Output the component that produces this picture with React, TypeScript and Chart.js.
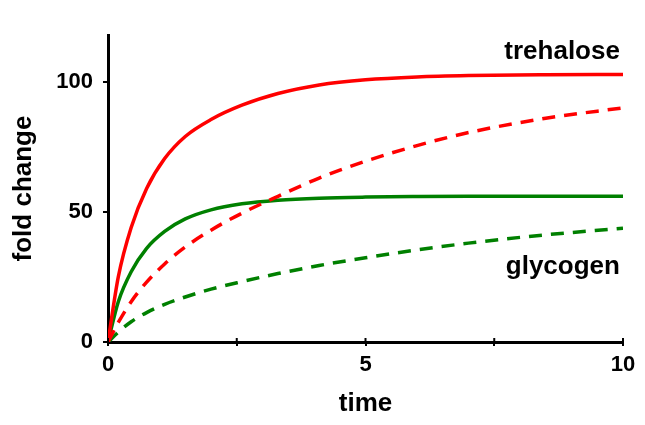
import React, { useEffect, useRef } from 'react';
import { Chart, registerables } from 'chart.js';

Chart.register(...registerables);

// time points (shared by all series)
const timePoints = [0, 0.2, 0.45, 0.75, 1.1, 1.5, 2, 2.6, 3.3, 4.1, 5, 6, 7, 8.5, 10];

// trehalose, fast (solid red)
const trehaloseFast = [0, 25, 44, 59, 70.5, 79, 85.5, 91, 95.5, 98.8, 100.8, 101.9, 102.4, 102.7, 102.8];
// trehalose, slow (dashed red)
const trehaloseSlow = [0, 7.5, 15.5, 23, 30, 36.5, 43, 49.5, 56, 63, 69.5, 75.5, 80.5, 86, 90];
// glycogen, fast (solid green)
const glycogenFast = [0, 15.5, 27, 36, 42.5, 47.3, 50.8, 53.1, 54.5, 55.3, 55.7, 55.9, 56, 56, 56];
// glycogen, slow (dashed green)
const glycogenSlow = [0, 3.8, 7.8, 11.3, 14.5, 17.3, 20.3, 23.2, 26.3, 29.4, 32.4, 35.4, 38, 41.2, 43.7];

const xTicks = [0, 2.5, 5, 7.5, 10];
const xTickLabels = ['0', '', '5', '', '10'];
const yTicks = [0, 50, 100];
const yTickLabels = ['0', '50', '100'];

const xTitle = 'time';
const yTitle = 'fold change';
const trehaloseLabel = 'trehalose';
const glycogenLabel = 'glycogen';

const RED = '#ff0000';
const GREEN = '#008000';
const FONT = '"Liberation Sans", Arial, Helvetica, sans-serif';

const toPoints = (ys: number[]) => ys.map((v, i) => ({ x: timePoints[i], y: v }));

export default function App() {
  const ref = useRef<HTMLCanvasElement | null>(null);

  useEffect(() => {
    if (!ref.current) return;

    const textPlugin = {
      id: 'textPlugin',
      afterDraw(chart: any) {
        const ctx = chart.ctx;
        const { chartArea } = chart;
        const xs = chart.scales.x;
        const ys = chart.scales.y;
        ctx.save();
        // small tick stubs crossing the x axis (inner side)
        ctx.strokeStyle = '#000';
        ctx.lineWidth = 2;
        xTicks.forEach((v) => {
          const px = xs.getPixelForValue(v);
          ctx.beginPath();
          ctx.moveTo(px, chartArea.bottom);
          ctx.lineTo(px, chartArea.bottom - 4);
          ctx.stroke();
        });
        ctx.fillStyle = '#000';
        ctx.font = `bold 26px ${FONT}`;
        ctx.textAlign = 'right';
        ctx.textBaseline = 'middle';
        ctx.fillText(trehaloseLabel, xs.getPixelForValue(9.94), ys.getPixelForValue(111.5));
        ctx.fillText(glycogenLabel, xs.getPixelForValue(9.94), ys.getPixelForValue(28.8));
        ctx.textAlign = 'center';
        ctx.fillText(xTitle, (chartArea.left + chartArea.right) / 2, 404);
        ctx.translate(24, (chartArea.top + chartArea.bottom) / 2);
        ctx.rotate(-Math.PI / 2);
        ctx.fillText(yTitle, 0, 0);
        ctx.restore();
      },
    };

    const lineStyle = (color: string, dashed: boolean) => ({
      borderColor: color,
      backgroundColor: color,
      borderWidth: 3.5,
      borderDash: dashed ? [13, 9] : [],
      pointRadius: 0,
      fill: false,
      cubicInterpolationMode: 'monotone' as const,
    });

    const chart = new Chart(ref.current, {
      type: 'line',
      data: {
        datasets: [
          { label: 'trehalose fast', data: toPoints(trehaloseFast), ...lineStyle(RED, false) },
          { label: 'trehalose slow', data: toPoints(trehaloseSlow), ...lineStyle(RED, true) },
          { label: 'glycogen fast', data: toPoints(glycogenFast), ...lineStyle(GREEN, false) },
          { label: 'glycogen slow', data: toPoints(glycogenSlow), ...lineStyle(GREEN, true) },
        ],
      },
      options: {
        animation: false,
        responsive: false,
        devicePixelRatio: 1,
        layout: { padding: { left: 0, right: 22, top: 35, bottom: 0 } },
        plugins: { legend: { display: false }, tooltip: { enabled: false } },
        scales: {
          x: {
            type: 'linear',
            min: 0,
            max: 10,
            afterBuildTicks: (s: any) => {
              s.ticks = xTicks.map((v) => ({ value: v }));
            },
            afterFit: (s: any) => {
              s.height = 83;
            },
            ticks: {
              color: '#000',
              font: { family: FONT, size: 22, weight: 'bold' },
              padding: 6,
              maxRotation: 0,
              autoSkip: false,
              callback: (v: any) => {
                const i = xTicks.indexOf(Number(v));
                return i >= 0 ? xTickLabels[i] : '';
              },
            },
            grid: { drawOnChartArea: false, color: '#000', lineWidth: 2, tickLength: 4 },
            border: { color: '#000', width: 3 },
          },
          y: {
            type: 'linear',
            min: 0,
            max: 118,
            afterBuildTicks: (s: any) => {
              s.ticks = yTicks.map((v) => ({ value: v }));
            },
            afterFit: (s: any) => {
              s.width = 108;
            },
            ticks: {
              color: '#000',
              font: { family: FONT, size: 22, weight: 'bold' },
              padding: 10,
              autoSkip: false,
              callback: (v: any) => {
                const i = yTicks.indexOf(Number(v));
                return i >= 0 ? yTickLabels[i] : '';
              },
            },
            grid: { drawOnChartArea: false, color: '#000', lineWidth: 2, tickLength: 5 },
            border: { color: '#000', width: 3 },
          },
        },
      },
      plugins: [textPlugin],
    });

    return () => chart.destroy();
  }, []);

  return (
    <div style={{ position: 'absolute', left: 0, top: 0, width: 645, height: 425, background: '#fff' }}>
      <canvas ref={ref} width={645} height={425} />
    </div>
  );
}
